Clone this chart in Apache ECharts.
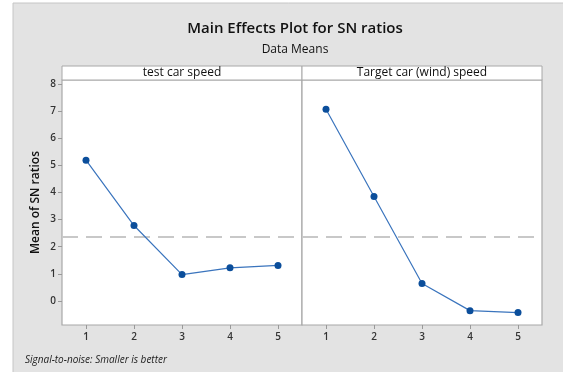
<!DOCTYPE html>
<html>
<head>
<meta charset="utf-8">
<script src="https://cdn.jsdelivr.net/npm/echarts@6/dist/echarts.min.js"></script>
<style>
  html, body { margin: 0; padding: 0; background: #ffffff; }
  #chart { width: 563px; height: 372px; }
</style>
</head>
<body>
<div id="chart"></div>
<script>
// Factor levels shared by both panels
const levels = ['1', '2', '3', '4', '5'];
// Mean SN ratio at each level
const testCarSpeed = [5.19, 2.78, 0.97, 1.22, 1.31];
const targetCarSpeed = [7.07, 3.85, 0.64, -0.36, -0.43];
// Overall mean of SN ratios (reference line)
const overallMean = 2.37;
// Y axis ticks
const yTicks = [0, 1, 2, 3, 4, 5, 6, 7, 8];
// Panel headers
const panelNames = ['test car speed', 'Target car (wind) speed'];

const FONT = '"Open Sans", "Noto Sans", sans-serif';
const LINE_COLOR = '#3a74bd';
const DOT_COLOR = '#0b4e9b';
const BORDER = '#a8a8a8';

const chart = echarts.init(document.getElementById('chart'), null, { renderer: 'canvas' });

const grids = [
  { left: 62, right: 261, top: 80, bottom: 47 },
  { left: 302, right: 21, top: 80, bottom: 47 }
];

function makeSeries(data, idx) {
  return {
    type: 'line',
    xAxisIndex: idx,
    yAxisIndex: idx,
    data: data,
    symbol: 'circle',
    symbolSize: 7,
    lineStyle: { color: LINE_COLOR, width: 1.2 },
    itemStyle: { color: DOT_COLOR },
    z: 5,
    markLine: {
      silent: true,
      symbol: 'none',
      label: { show: false },
      lineStyle: { color: '#c8c8c8', type: [16, 8], width: 2 },
      data: [{ yAxis: overallMean }],
      z: 2
    }
  };
}

chart.setOption({
  backgroundColor: '#ffffff',
  animation: false,
  graphic: [
    {
      type: 'rect',
      shape: { x: 13, y: 3, width: 560, height: 380 },
      style: { fill: '#e3e3e3', stroke: '#c6c6c6', lineWidth: 1 },
      z: -10
    },
    {
      type: 'rect',
      shape: { x: 62, y: 66, width: 240, height: 14 },
      style: { fill: '#ffffff', stroke: BORDER, lineWidth: 1 },
      z: 1
    },
    {
      type: 'rect',
      shape: { x: 302, y: 66, width: 240, height: 14 },
      style: { fill: '#ffffff', stroke: BORDER, lineWidth: 1 },
      z: 1
    },
    {
      type: 'text',
      x: 182, y: 73,
      style: { text: panelNames[0], font: '12px ' + FONT, fill: '#111', align: 'center', verticalAlign: 'middle' },
      z: 2
    },
    {
      type: 'text',
      x: 422, y: 73,
      style: { text: panelNames[1], font: '12px ' + FONT, fill: '#111', align: 'center', verticalAlign: 'middle' },
      z: 2
    },
    {
      type: 'text',
      x: 25, y: 360,
      style: { text: 'Signal-to-noise: Smaller is better', font: 'italic 10px ' + FONT, fill: '#222', verticalAlign: 'middle' },
      z: 2
    }
  ],
  title: [
    {
      text: 'Main Effects Plot for SN ratios',
      left: 290, top: 16, textAlign: 'center',
      textStyle: { fontFamily: FONT, fontSize: 15, fontWeight: 600, color: '#111' }
    },
    {
      text: 'Data Means',
      left: 290, top: 39, textAlign: 'center',
      textStyle: { fontFamily: FONT, fontSize: 12, fontWeight: 500, color: '#111' }
    }
  ],
  grid: grids.map(g => Object.assign({
    show: true, backgroundColor: '#ffffff', borderColor: BORDER, borderWidth: 1.2
  }, g)),
  xAxis: [0, 1].map(i => ({
    type: 'category',
    gridIndex: i,
    data: levels,
    boundaryGap: true,
    position: 'bottom',
    axisLine: { show: false, onZero: false },
    axisTick: { show: true, alignWithLabel: true, length: 4, lineStyle: { color: '#999' } },
    axisLabel: { fontFamily: FONT, fontSize: 10, fontWeight: 600, color: '#333', margin: 7 },
    splitLine: { show: false }
  })),
  yAxis: [0, 1].map(i => ({
    type: 'value',
    gridIndex: i,
    min: -0.89,
    max: 8.15,
    name: i === 0 ? 'Mean of SN ratios' : '',
    nameLocation: 'middle',
    nameGap: 20,
    nameTextStyle: { fontFamily: FONT, fontSize: 12, fontWeight: 600, color: '#111' },
    axisLine: { show: false, onZero: false },
    axisTick: { show: i === 0, length: 4, lineStyle: { color: '#999' }, customValues: yTicks },
    axisLabel: { show: i === 0, fontFamily: FONT, fontSize: 10, fontWeight: 600, color: '#333', margin: 6, customValues: yTicks },
    splitLine: { show: false }
  })),
  series: [makeSeries(testCarSpeed, 0), makeSeries(targetCarSpeed, 1)]
});
</script>
</body>
</html>
